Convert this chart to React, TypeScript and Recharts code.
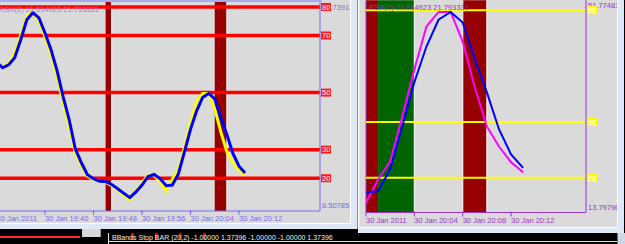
import React from 'react';
import { LineChart, Line, XAxis, YAxis, ReferenceLine, ReferenceArea } from 'recharts';

// bar index in minutes relative to 30 Jan 19:40
const minutes = [-8, -7, -6, -5, -4, -3, -2, -1, 0, 1, 2, 3, 4, 5, 6, 7, 8, 9, 10, 11, 12, 13, 14, 15, 16, 17, 18, 19, 20, 21, 22, 23, 24, 25, 26, 27, 28, 29, 30, 31, 32, 33];
const rsxMain = [60.8, 58.7, 59.7, 62.2, 68.5, 75.5, 78.0, 76.2, 70.9, 65.0, 57.6, 48.5, 40.4, 30.3, 25.4, 21.2, 19.8, 18.9, 18.8, 17.8, 16.3, 14.7, 13.2, 15.2, 17.6, 20.6, 21.3, 19.8, 17.4, 17.6, 21.5, 29.2, 37.1, 43.5, 48.3, 49.7, 47.8, 41.2, 35.3, 28.7, 24.2, 21.793331];
const rsxSignal = [60.5, 59.0, 60.3, 63.8, 70.3, 76.8, 78.2, 75.0, 69.5, 63.2, 55.3, 46.5, 38.0, 29.0, 24.3, 20.7, 19.5, 18.9, 18.5, 17.4, 15.8, 14.0, 12.4, 15.5, 18.4, 21.2, 20.9, 18.8, 15.6, 19.7, 22.9, 31.0, 39.4, 47.1, 49.7, 49.7, 44.4, 36.2, 29.2, 25.6, 22.8, 21.014923];

const leftRange = [8.507851, 81.73911];
const rightRange = [13.797961, 51.77481];
const leftRangeLabels = ['8.507851', '81.73911'];
const rightRangeLabels = ['13.797961', '51.774810'];
const leftLevels = [80, 70, 50, 30, 20];
const rightLevels = [50, 30, 20];
const leftTickMinutes = [-8, 0, 8, 16, 24, 32];
const leftTickLabels = ['30 Jan 2011', '30 Jan 19:40', '30 Jan 19:48', '30 Jan 19:56', '30 Jan 20:04', '30 Jan 20:12'];
const rightTickMinutes = [20, 24, 28, 32];
const rightTickLabels = ['30 Jan 2011', '30 Jan 20:04', '30 Jan 20:08', '30 Jan 20:12'];
const leftMaroonBars = [[10, 11], [28, 30]];
const rightMaroonBars = [[20, 21], [28, 30]];
const rightGreenBars = [[21, 24]];
const leftViewMinutes = [-7.42, 45.36];
const rightViewMinutes = [20, 38.2];
const rsxTitle = 'RSX(2) 21.014923 21.793331';
const statusText = 'BBands Stop BAR (20,2) -1.00000 1.37396 -1.00000 -1.00000 1.37396';

const leftData = minutes.map((m, i) => ({ m, main: rsxMain[i], signal: rsxSignal[i] }));
const rightData = leftData.filter((d) => d.m >= rightViewMinutes[0]);

const FONT = "'Liberation Sans', Arial, sans-serif";
const FS = 7.5;
const PLOT_BG = '#dadada';
const FRAME = '#dde8f4';
const LEFT_FG = '#7b68ee';
const RIGHT_FG = '#9932cc';
const MAROON = '#960000';

const makeXTick = (ticks: number[], labels: string[], color: string) => (props: any) => {
  const { x, y, payload } = props;
  const i = ticks.indexOf(payload.value);
  return (
    <g>
      <line x1={x} x2={x} y1={y - 1} y2={y + 4} stroke={color} strokeWidth={1} />
      <text x={x} y={y + 10} fill={color} fontSize={FS} fontFamily={FONT} textAnchor="start">
        {labels[i] ?? ''}
      </text>
    </g>
  );
};

const makeYTick = (range: number[], rangeLabels: string[], color: string, boxColor: string) => (props: any) => {
  const { x, y, payload } = props;
  const v = payload.value;
  if (v === range[0] || v === range[1]) {
    const isTop = v === range[1];
    return (
      <text x={x + 2} y={isTop ? y + 7.5 : y - 3} fill={color} fontSize={FS} fontFamily={FONT} textAnchor="start">
        {isTop ? rangeLabels[1] : rangeLabels[0]}
      </text>
    );
  }
  return (
    <g>
      <rect x={x + 1} y={y - 4} width={10} height={8} fill={boxColor} />
      <text x={x + 2} y={y + 2.8} fill="#ffffff" fontSize={FS} fontFamily={FONT} textAnchor="start">
        {String(v)}
      </text>
    </g>
  );
};

const LeftChart = () => (
  <LineChart width={350} height={223} data={leftData} margin={{ top: 2, right: 0, left: 0, bottom: 0 }}>
    <XAxis
      dataKey="m"
      type="number"
      domain={leftViewMinutes}
      allowDataOverflow
      ticks={leftTickMinutes}
      interval={0}
      tickLine={false}
      tickSize={0}
      tickMargin={0}
      height={12}
      axisLine={{ stroke: LEFT_FG }}
      tick={makeXTick(leftTickMinutes, leftTickLabels, LEFT_FG)}
    />
    <YAxis
      orientation="right"
      width={30}
      domain={leftRange}
      allowDataOverflow
      ticks={[leftRange[0], leftRange[1], ...leftLevels]}
      interval={0}
      tickLine={false}
      tickSize={0}
      tickMargin={0}
      axisLine={{ stroke: LEFT_FG }}
      tick={makeYTick(leftRange, leftRangeLabels, LEFT_FG, '#ff1a1a')}
    />
    {leftMaroonBars.map(([a, b], i) => (
      <ReferenceArea key={'lb' + i} x1={a} x2={b} fill={MAROON} fillOpacity={1} stroke="none" />
    ))}
    {leftMaroonBars.map(([, b], i) => (
      <ReferenceLine key={'lw' + i} x={b} stroke="#f2f2f2" strokeWidth={1.2} />
    ))}
    {leftLevels.map((lv) => (
      <ReferenceLine key={'ll' + lv} y={lv} stroke="#ff0000" strokeWidth={3.5} />
    ))}
    <Line type="linear" dataKey="signal" stroke="#ffff00" strokeWidth={3} dot={false} isAnimationActive={false} />
    <Line type="linear" dataKey="main" stroke="#0000ff" strokeWidth={3} dot={false} isAnimationActive={false} />
  </LineChart>
);

const RightChart = () => (
  <LineChart width={257} height={227} data={rightData} margin={{ top: 0.3, right: 0, left: 6, bottom: 0 }}>
    <XAxis
      dataKey="m"
      type="number"
      domain={rightViewMinutes}
      allowDataOverflow
      ticks={rightTickMinutes}
      interval={0}
      tickLine={false}
      tickSize={0}
      tickMargin={0}
      height={14.5}
      axisLine={{ stroke: RIGHT_FG }}
      tick={makeXTick(rightTickMinutes, rightTickLabels, RIGHT_FG)}
    />
    <YAxis
      orientation="right"
      width={31}
      domain={rightRange}
      allowDataOverflow
      ticks={[rightRange[0], rightRange[1], ...rightLevels]}
      interval={0}
      tickLine={false}
      tickSize={0}
      tickMargin={0}
      axisLine={{ stroke: RIGHT_FG }}
      tick={makeYTick(rightRange, rightRangeLabels, RIGHT_FG, '#ffff00')}
    />
    {rightMaroonBars.map(([a, b], i) => (
      <ReferenceArea key={'rb' + i} x1={a} x2={b} fill={MAROON} fillOpacity={1} stroke="none" />
    ))}
    {rightGreenBars.map(([a, b], i) => (
      <ReferenceArea key={'rg' + i} x1={a} x2={b} fill="#006400" fillOpacity={1} stroke="none" />
    ))}
    {[24, 28, 30].map((b) => (
      <ReferenceLine key={'rw' + b} x={b} stroke="#f2f2f2" strokeWidth={1.2} />
    ))}
    <ReferenceLine x={rightViewMinutes[0]} stroke={RIGHT_FG} strokeWidth={1} />
    {rightLevels.map((lv) => (
      <ReferenceLine key={'rl' + lv} y={lv} stroke="#ffff00" strokeWidth={2} />
    ))}
    <Line type="linear" dataKey="signal" stroke="#ff00ff" strokeWidth={2} dot={false} isAnimationActive={false} />
    <Line type="linear" dataKey="main" stroke="#0000ff" strokeWidth={2} dot={false} isAnimationActive={false} />
  </LineChart>
);

export default function App() {
  return (
    <div style={{ position: 'fixed', left: 0, top: 0, width: 625, height: 244, background: '#000', overflow: 'hidden' }}>
      {/* left window */}
      <div style={{ position: 'absolute', left: 0, top: 0, width: 357, height: 229, background: FRAME, borderRight: '1px solid #8a8a8a' }} />
      <div style={{ position: 'absolute', left: 0, top: 0, width: 350, height: 223, background: PLOT_BG, borderRight: '1px solid #ffffff', borderBottom: '1px solid #ffffff' }} />
      <div style={{ position: 'absolute', left: 0, top: 0, width: 350, height: 223 }}>
        <LeftChart />
      </div>
      <div style={{ position: 'absolute', left: 0, top: 0, width: 322, height: 1.5, background: '#a9a9f2' }} />
      {/* right window */}
      <div style={{ position: 'absolute', left: 358, top: 0, width: 265, height: 233, background: FRAME, borderLeft: '1px solid #ffffff' }} />
      <div style={{ position: 'absolute', left: 360, top: 0, width: 257, height: 227, background: PLOT_BG, borderRight: '1px solid #ffffff', borderBottom: '1px solid #ffffff' }} />
      <div style={{ position: 'absolute', left: 360, top: 0, width: 257, height: 227 }}>
        <RightChart />
      </div>
      {/* bottom strip decorations */}
      <div style={{ position: 'absolute', left: 0, top: 236, width: 80, height: 1.5, background: '#ff3030' }} />
      <div style={{ position: 'absolute', left: 82, top: 229, width: 18, height: 8, background: '#d8d8d8', borderRight: '1px solid #9a9a9a' }} />
      <div style={{ position: 'absolute', left: 108, top: 233, width: 1, height: 11, background: '#e0e0e0' }} />
      <div style={{ position: 'absolute', left: 108, top: 241, width: 510, height: 1, background: '#e0e0e0' }} />
      <div style={{ position: 'absolute', left: 617, top: 233, width: 8, height: 11, background: '#cfd8e2', borderLeft: '1px solid #707070' }} />
      {[131, 155, 179, 203].map((x) => (
        <div key={x} style={{ position: 'absolute', left: x, top: 233, width: 3, height: 7, background: '#e00000' }} />
      ))}
      <svg width={625} height={244} style={{ position: 'absolute', left: 0, top: 0, pointerEvents: 'none' }}>
        <text x={-1} y={12} fill="#9a80e6" fontSize={FS} fontFamily={FONT}>{rsxTitle}</text>
        <text x={369} y={10} fill={RIGHT_FG} fontSize={FS} fontFamily={FONT}>{rsxTitle}</text>
        <text x={112} y={239.5} fill="#eeeeee" fontSize={7} fontFamily={FONT}>{statusText}</text>
      </svg>
    </div>
  );
}
